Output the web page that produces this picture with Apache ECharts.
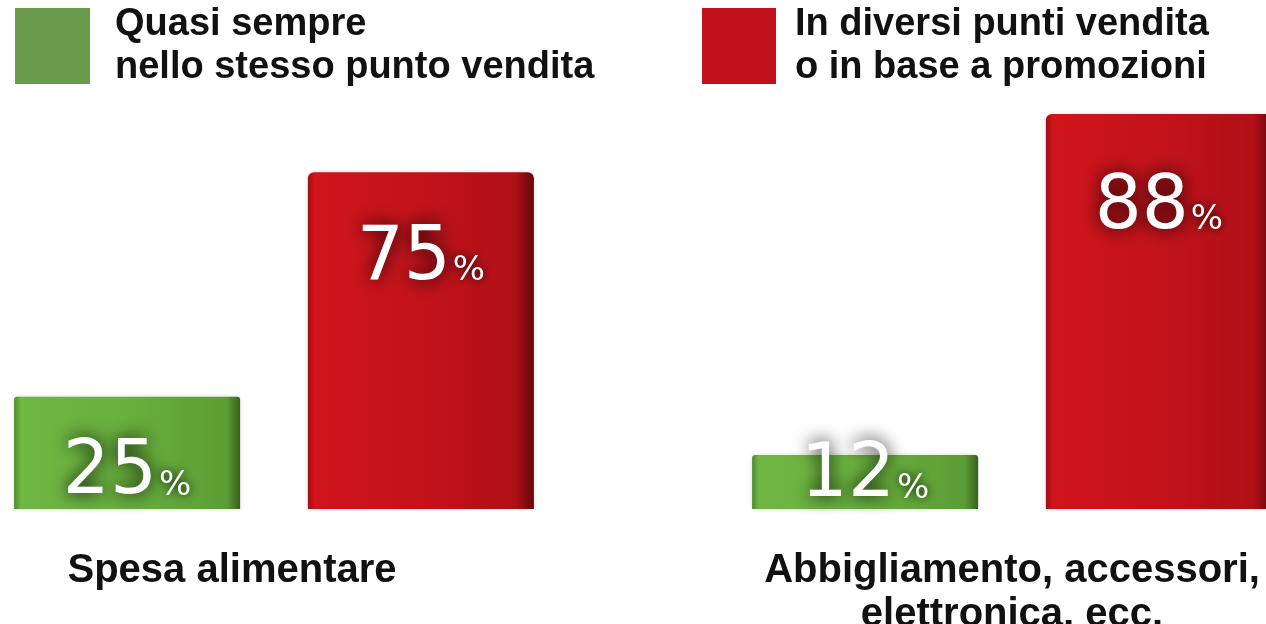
<!DOCTYPE html>
<html>
<head>
<meta charset="utf-8">
<script src="https://cdn.jsdelivr.net/npm/echarts@6/dist/echarts.min.js"></script>
<style>
html,body{margin:0;padding:0;background:#fff;}
#chart{width:1266px;height:624px;}
</style>
</head>
<body>
<div id="chart"></div>
<script>
const categories = ['Spesa alimentare', 'Abbigliamento, accessori,\nelettronica, ecc.'];
const seriesNames = ['Quasi sempre\nnello stesso punto vendita', 'In diversi punti vendita\no in base a promozioni'];
const sameStore = [25, 12];
const differentStores = [75, 88];

const chart = echarts.init(document.getElementById('chart'));

const greenGrad = new echarts.graphic.LinearGradient(0, 0, 1, 0, [
  {offset: 0, color: '#4f8a2c'},
  {offset: 0.03, color: '#6fb642'},
  {offset: 0.5, color: '#68b03d'},
  {offset: 0.94, color: '#5c9d35'},
  {offset: 1, color: '#36611d'}
]);
const redGrad = new echarts.graphic.LinearGradient(0, 0, 1, 0, [
  {offset: 0, color: '#a10c12'},
  {offset: 0.03, color: '#d0141b'},
  {offset: 0.5, color: '#c3121a'},
  {offset: 0.92, color: '#b00f16'},
  {offset: 1, color: '#66060a'}
]);

const numStyle = {
  fontFamily: "'DejaVu Sans'",
  fontSize: 74,
  color: '#ffffff',
  textShadowColor: 'rgba(0,0,0,1)',
  textShadowBlur: 18,
  lineHeight: 80,
  verticalAlign: 'bottom'
};
const pctStyle = {
  fontFamily: "'DejaVu Sans'",
  fontSize: 34,
  color: '#ffffff',
  textShadowColor: 'rgba(0,0,0,1)',
  textShadowBlur: 10,
  lineHeight: 72,
  verticalAlign: 'bottom',
  padding: [0, 0, 8, 2]
};

function labelFor(offsetY) {
  return {
    show: true,
    position: 'inside',
    offset: [0, offsetY],
    formatter: function (p) { return '{n|' + p.value + '}{p|%}'; },
    rich: {n: numStyle, p: pctStyle}
  };
}
const greenOffsets = [18, -8];
const redOffsets = [-84, -106];

const legendText = {fontFamily: "'Liberation Sans', Arial, sans-serif", fontWeight: 'bold', fontSize: 38, lineHeight: 43, color: '#111'};

const option = {
  backgroundColor: '#ffffff',
  animation: false,
  grid: {left: -95, right: -115, top: 60, bottom: 115, outerBoundsMode: 'none', containLabel: false},
  legend: [
    {
      left: 10, top: -2,
      itemWidth: 75, itemHeight: 76,
      icon: 'rect',
      selectedMode: false,
      data: [{name: seriesNames[0], itemStyle: {color: '#6a9a4b'}}],
      textStyle: Object.assign({padding: [0, 0, 0, 20]}, legendText)
    },
    {
      left: 697, top: -2,
      itemWidth: 74, itemHeight: 76,
      icon: 'rect',
      selectedMode: false,
      data: [{name: seriesNames[1], itemStyle: {color: '#c0111a'}}],
      textStyle: Object.assign({padding: [0, 0, 0, 14]}, legendText)
    }
  ],
  xAxis: {
    type: 'category',
    data: categories,
    axisLine: {show: false},
    axisTick: {show: false},
    axisLabel: {
      interval: 0,
      margin: 40,
      formatter: function (v, i) { return i === 0 ? '{a|' + v + '}{sp|}' : '{b|' + v + '}'; },
      rich: {
        a: {fontFamily: "'Liberation Sans', Arial, sans-serif", fontWeight: 'bold', fontSize: 40, lineHeight: 44, color: '#111'},
        sp: {width: 84, height: 10},
        b: {fontFamily: "'Liberation Sans', Arial, sans-serif", fontWeight: 'bold', fontSize: 40, lineHeight: 44, color: '#111', align: 'center'}
      }
    }
  },
  yAxis: {type: 'value', min: 0, max: 100, show: false},
  series: [
    {
      name: seriesNames[0],
      type: 'bar',
      barWidth: 226,
      barGap: '30%',
      itemStyle: {color: greenGrad, borderRadius: [3, 3, 0, 0], shadowColor: 'rgba(0,0,0,0.15)', shadowBlur: 4},
      data: sameStore.map((v, i) => ({value: v, label: labelFor(greenOffsets[i])}))
    },
    {
      name: seriesNames[1],
      type: 'bar',
      barWidth: 226,
      barGap: '30%',
      itemStyle: {color: redGrad, borderRadius: [6, 6, 0, 0], shadowColor: 'rgba(0,0,0,0.15)', shadowBlur: 4},
      data: differentStores.map((v, i) => ({value: v, label: labelFor(redOffsets[i])}))
    }
  ]
};
chart.setOption(option);
</script>
</body>
</html>
